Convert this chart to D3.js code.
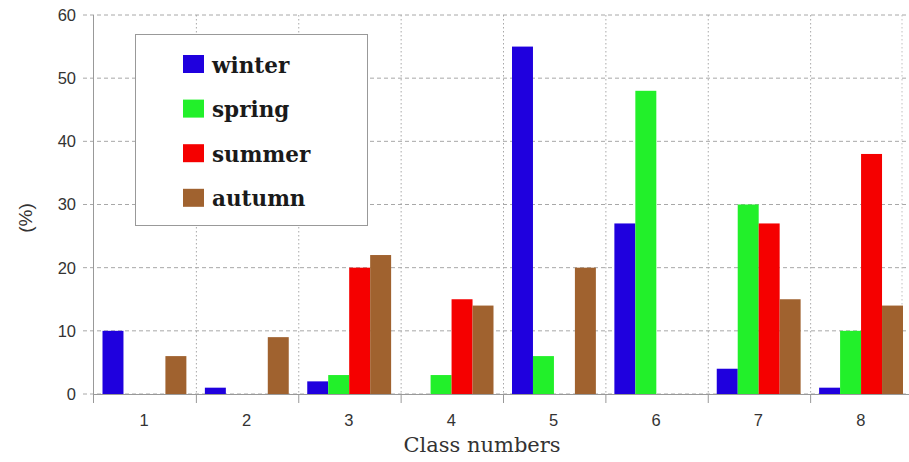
<!DOCTYPE html>
<html><head><meta charset="utf-8">
<script src="https://cdn.jsdelivr.net/npm/d3@7"></script>
<style>body{margin:0;background:#fff}</style>
</head><body>
<svg id="c" width="909" height="462"></svg>
<script>
const categories = ["1","2","3","4","5","6","7","8"];
const seriesNames = ["winter","spring","summer","autumn"];
const seriesColors = ["#1f00de","#22f02a","#f50000","#a0622f"];
const winter = [10,1,2,0,55,27,4,1];
const spring = [0,0,3,3,6,48,30,10];
const summer = [0,0,20,15,0,0,27,38];
const autumn = [6,9,22,14,20,0,15,14];
const yTicks = [0,10,20,30,40,50,60];
const seriesValues = [winter,spring,summer,autumn];

const svg = d3.select("#c");
const mLeft = 94, mRight = 913, mTop = 15, mBottom = 394;
const x = d3.scaleBand().domain(categories).range([mLeft,mRight]).padding(0);
const x1 = d3.scaleBand().domain(seriesNames).range([8.5, x.bandwidth()-10]).padding(0);
const y = d3.scaleLinear().domain([0,60]).range([mBottom,mTop]);

// horizontal grid (dashed) with outer tick extension
svg.append("g").selectAll("line").data(yTicks).join("line")
  .attr("x1", mLeft-11).attr("x2", mRight).attr("y1", d=>y(d)).attr("y2", d=>y(d))
  .attr("stroke","#a8a8a8").attr("stroke-width",1).attr("stroke-dasharray","4,3");
// vertical grid (dotted)
const bounds = categories.map(c=>x(c)).concat([mRight]);
svg.append("g").selectAll("line").data(bounds.slice(1)).join("line")
  .attr("x1", d=>d).attr("x2", d=>d).attr("y1", mTop).attr("y2", mBottom)
  .attr("stroke","#a8a8a8").attr("stroke-width",1).attr("stroke-dasharray","1.5,2.5");
svg.append("line").attr("x1",902).attr("x2",902).attr("y1",mTop).attr("y2",mBottom)
  .attr("stroke","#c0c0c0").attr("stroke-dasharray","1.5,2.5");

// bars
const groups = svg.append("g").selectAll("g").data(categories).join("g")
  .attr("transform", d=>`translate(${x(d)},0)`);
groups.selectAll("rect").data((c,i)=>seriesNames.map((s,j)=>({s, j, v: seriesValues[j][i]})))
  .join("rect")
  .attr("x", d=>x1(d.s)).attr("width", x1.bandwidth())
  .attr("y", d=>y(d.v)).attr("height", d=>y(0)-y(d.v))
  .attr("fill", d=>seriesColors[d.j]);

// axes lines
svg.append("line").attr("x1",mLeft-0.5).attr("x2",mLeft-0.5).attr("y1",mTop).attr("y2",mBottom+9)
  .attr("stroke","#999").attr("stroke-width",1);
svg.append("line").attr("x1",mLeft).attr("x2",mRight).attr("y1",mBottom+0.5).attr("y2",mBottom+0.5)
  .attr("stroke","#999").attr("stroke-width",1);
// x ticks
svg.append("g").selectAll("line").data(bounds.slice(1)).join("line")
  .attr("x1", d=>d).attr("x2", d=>d).attr("y1", mBottom).attr("y2", mBottom+9)
  .attr("stroke","#999");

// y tick labels
svg.append("g").selectAll("text").data(yTicks).join("text")
  .attr("x", 76).attr("y", d=>y(d)).attr("dy","0.36em").attr("text-anchor","end")
  .attr("font-family","Liberation Sans, Arial, sans-serif").attr("font-size",16.5).attr("fill","#333")
  .text(d=>d);
// x tick labels
svg.append("g").selectAll("text").data(categories).join("text")
  .attr("x", d=>x(d)+x.bandwidth()/2-1).attr("y", 420).attr("dy","0.36em").attr("text-anchor","middle")
  .attr("font-family","Liberation Sans, Arial, sans-serif").attr("font-size",16.5).attr("fill","#333")
  .text(d=>d);
// axis titles
svg.append("text").attr("x",482).attr("y",452).attr("text-anchor","middle")
  .attr("font-family","DejaVu Serif, serif").attr("font-size",21).attr("fill","#333")
  .text("Class numbers");
svg.append("text").attr("transform","translate(32,218) rotate(-90)").attr("text-anchor","middle")
  .attr("font-family","Liberation Sans, Arial, sans-serif").attr("font-size",19).attr("fill","#333")
  .text("(%)");

// legend
const lg = svg.append("g");
lg.append("rect").attr("x",135.5).attr("y",34.5).attr("width",232).attr("height",191)
  .attr("fill","#fff").attr("stroke","#999");
const li = lg.selectAll("g").data(seriesNames).join("g")
  .attr("transform",(d,i)=>`translate(183,${55+i*44.6})`);
li.append("rect").attr("width",21).attr("height",18).attr("fill",(d,i)=>seriesColors[i]);
li.append("text").attr("x",29).attr("y",17.5).attr("font-family","DejaVu Serif, serif")
  .attr("font-weight","bold").attr("font-size",21.5).attr("fill","#1a1a1a").text(d=>d);
</script>
</body></html>
